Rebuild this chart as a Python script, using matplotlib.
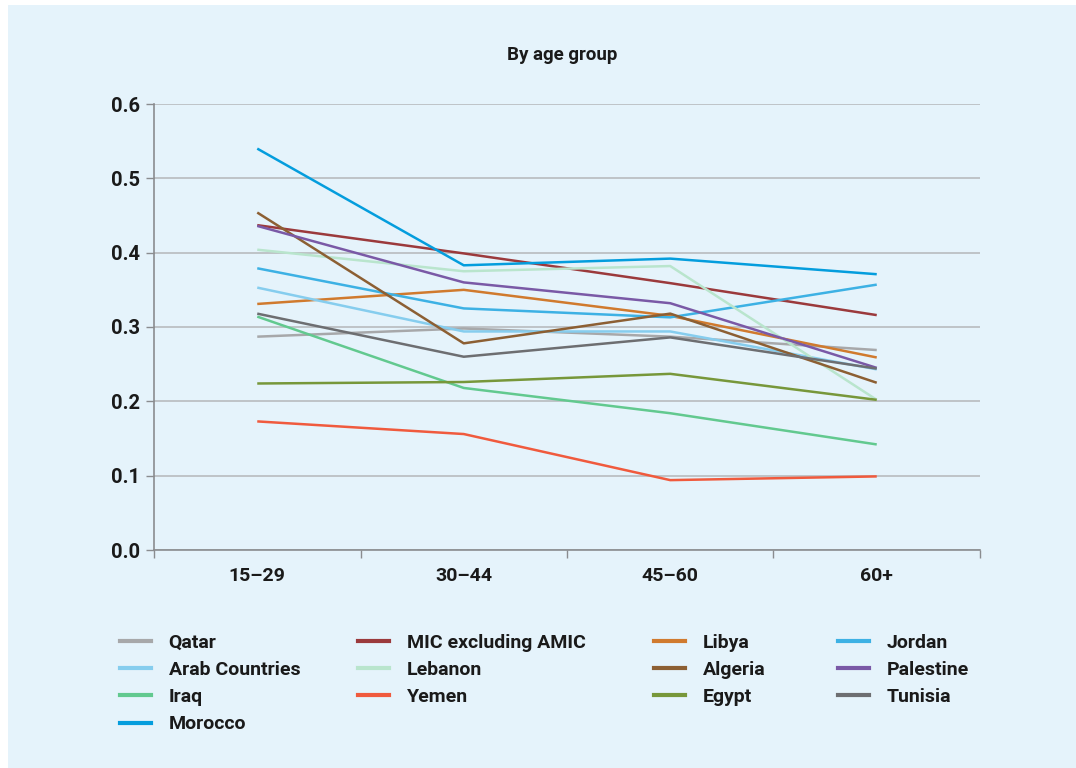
import matplotlib
matplotlib.use('Agg')
import matplotlib.pyplot as plt
from matplotlib.patches import Rectangle
from matplotlib.lines import Line2D

plt.rcParams['font.family'] = ['Roboto', 'DejaVu Sans']

age_groups = ['15–29', '30–44', '45–60', '60+']

qatar = [0.287, 0.298, 0.287, 0.269]
mic_excl_amic = [0.437, 0.399, 0.359, 0.316]
libya = [0.331, 0.350, 0.315, 0.259]
jordan = [0.379, 0.325, 0.313, 0.357]
arab_countries = [0.353, 0.294, 0.294, 0.243]
lebanon = [0.404, 0.375, 0.382, 0.202]
algeria = [0.454, 0.278, 0.318, 0.225]
palestine = [0.436, 0.360, 0.332, 0.245]
iraq = [0.314, 0.218, 0.184, 0.142]
yemen = [0.173, 0.156, 0.094, 0.099]
egypt = [0.224, 0.226, 0.237, 0.202]
tunisia = [0.318, 0.260, 0.286, 0.244]
morocco = [0.540, 0.383, 0.392, 0.371]

series = [
    ('Qatar', qatar, '#a7a8aa'),
    ('MIC excluding AMIC', mic_excl_amic, '#9b3a3c'),
    ('Libya', libya, '#d07a2e'),
    ('Jordan', jordan, '#3db1e4'),
    ('Arab Countries', arab_countries, '#86cdee'),
    ('Lebanon', lebanon, '#b9e5cd'),
    ('Algeria', algeria, '#8c5f33'),
    ('Palestine', palestine, '#7a59a6'),
    ('Iraq', iraq, '#62c98f'),
    ('Yemen', yemen, '#f05a3d'),
    ('Egypt', egypt, '#77973a'),
    ('Tunisia', tunisia, '#6d6e71'),
    ('Morocco', morocco, '#049ddd'),
]

bg = '#e5f3fb'
fig = plt.figure(figsize=(10.76, 7.68), dpi=100, facecolor='white')
fig.patches.append(Rectangle((8 / 1076, 0), 1, 1 - 5 / 768, transform=fig.transFigure,
                             facecolor=bg, edgecolor='none', zorder=-10))

ax = fig.add_axes([154 / 1076, 1 - 550 / 768, (980 - 154) / 1076, (550 - 104) / 768])
ax.set_facecolor(bg)

xs = list(range(len(age_groups)))
handles = {}
for name, vals, col in series:
    ln, = ax.plot(xs, vals, color=col, linewidth=1.8, solid_capstyle='butt', label=name)
    handles[name] = ln

ax.set_xlim(-0.5, 3.5)
ax.set_ylim(0, 0.6)
ax.set_yticks([0, 0.1, 0.2, 0.3, 0.4, 0.5, 0.6])
ax.set_yticklabels(['0.0', '0.1', '0.2', '0.3', '0.4', '0.5', '0.6'])
ax.yaxis.grid(True, color='#b4b6b9', linewidth=1.1)
ax.set_axisbelow(True)

ax.set_xticks([-0.5, 0.5, 1.5, 2.5, 3.5])
ax.set_xticklabels([])
ax.set_xticks(xs, minor=True)
ax.set_xticklabels(age_groups, minor=True)
ax.tick_params(axis='x', which='major', length=6, color='#8a8c8f', width=1)
ax.tick_params(axis='x', which='minor', length=0, pad=12, labelsize=14)
ax.tick_params(axis='y', length=6, color='#8a8c8f', width=1, labelsize=14.5, pad=4)
for lab in ax.get_xticklabels(minor=True) + ax.get_yticklabels():
    lab.set_fontweight('bold')
    lab.set_color('#1a1a1a')

for s in ['top', 'right']:
    ax.spines[s].set_visible(False)
ax.spines['left'].set_color('#8a8c8f')
ax.spines['bottom'].set_color('#8a8c8f')
ax.spines['left'].set_linewidth(1.2)
ax.spines['bottom'].set_linewidth(1.2)

fig.text(562 / 1076, 1 - 55 / 768, 'By age group', ha='center', va='center',
         fontsize=13.5, fontweight='bold', color='#1a1a1a')

columns = [
    (['Qatar', 'Arab Countries', 'Iraq', 'Morocco'], 120),
    (['MIC excluding AMIC', 'Lebanon', 'Yemen'], 358),
    (['Libya', 'Algeria', 'Egypt'], 654),
    (['Jordan', 'Palestine', 'Tunisia'], 838),
]
for names, xpix in columns:
    hs = [Line2D([], [], color=handles[n].get_color(), linewidth=3) for n in names]
    leg = fig.legend(hs, names, loc='upper left', bbox_to_anchor=(xpix / 1076, 1 - 634 / 768),
                     frameon=False, handlelength=1.6, handletextpad=0.9, labelspacing=0.47,
                     borderaxespad=0, borderpad=0,
                     prop={'weight': 'bold', 'size': 14})
    for t in leg.get_texts():
        t.set_color('#1a1a1a')

fig.savefig('out.png', dpi=100, facecolor=fig.get_facecolor())
